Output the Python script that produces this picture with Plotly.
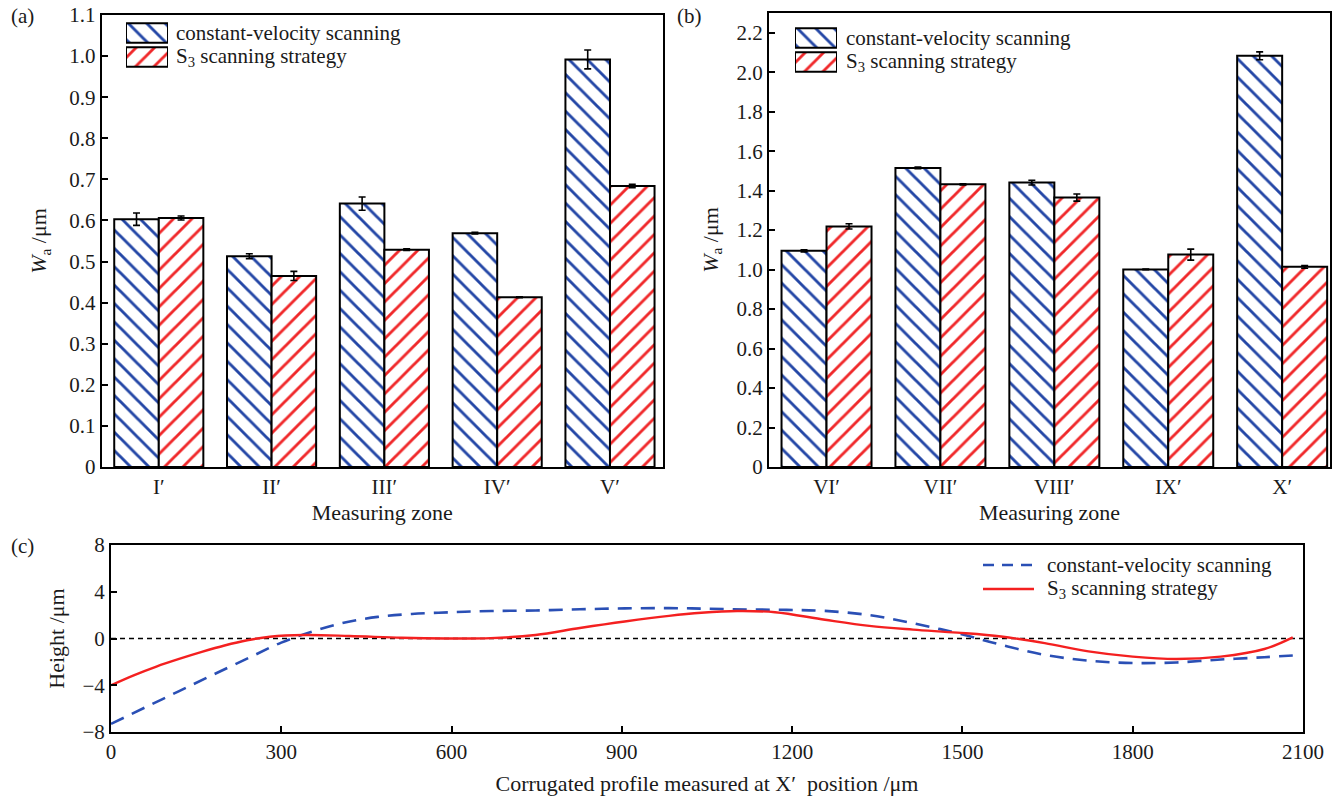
import plotly.graph_objects as go

# ---------------- data ----------------
zones_a = ["I′", "II′", "III′", "IV′", "V′"]
cv_a = [0.603, 0.513, 0.641, 0.569, 0.992]
cv_a_err = [0.015, 0.006, 0.016, 0.002, 0.023]
s3_a = [0.606, 0.465, 0.529, 0.413, 0.684]
s3_a_err = [0.005, 0.011, 0.002, 0.001, 0.004]

zones_b = ["VI′", "VII′", "VIII′", "IX′", "X′"]
cv_b = [1.095, 1.515, 1.441, 1.001, 2.083]
cv_b_err = [0.005, 0.004, 0.012, 0.002, 0.020]
s3_b = [1.219, 1.432, 1.365, 1.076, 1.014]
s3_b_err = [0.013, 0.003, 0.018, 0.028, 0.007]

pos_cv = [0, 60, 120, 180, 245, 300, 355, 410, 470, 530, 600, 670, 748, 826, 905, 983,
          1050, 1120, 1190, 1258, 1336, 1413, 1491, 1568, 1645, 1722, 1800, 1877, 1955, 2032, 2082]
height_cv = [-7.3, -5.9, -4.5, -3.1, -1.6, -0.35, 0.6, 1.35, 1.85, 2.1, 2.25, 2.35, 2.4, 2.5, 2.58, 2.6,
             2.55, 2.48, 2.45, 2.36, 2.0, 1.3, 0.46, -0.54, -1.4, -1.9, -2.1, -2.05, -1.8, -1.6, -1.45]
pos_s3 = [0, 40, 80, 120, 160, 200, 240, 280, 340, 420, 512, 590, 669, 748, 826, 905, 983,
          1040, 1103, 1170, 1258, 1336, 1413, 1491, 1568, 1645, 1722, 1800, 1877, 1955, 2032, 2082]
height_s3 = [-4.0, -3.15, -2.4, -1.75, -1.15, -0.6, -0.15, 0.15, 0.3, 0.22, 0.06, 0.0, 0.03, 0.3, 0.9, 1.46, 1.94,
             2.2, 2.35, 2.25, 1.6, 1.08, 0.76, 0.5, 0.17, -0.4, -1.1, -1.55, -1.75, -1.55, -0.9, 0.1]

yticks_a = [0, 0.1, 0.2, 0.3, 0.4, 0.5, 0.6, 0.7, 0.8, 0.9, 1.0, 1.1]
ytext_a = ["0", "0.1", "0.2", "0.3", "0.4", "0.5", "0.6", "0.7", "0.8", "0.9", "1.0", "1.1"]
yticks_b = [0, 0.2, 0.4, 0.6, 0.8, 1.0, 1.2, 1.4, 1.6, 1.8, 2.0, 2.2]
ytext_b = ["0", "0.2", "0.4", "0.6", "0.8", "1.0", "1.2", "1.4", "1.6", "1.8", "2.0", "2.2"]
xticks_c = [0, 300, 600, 900, 1200, 1500, 1800, 2100]
yticks_c = [-8, -4, 0, 4, 8]
ytext_c = ["−8", "−4", "0", "4", "8"]

series_names = ["constant-velocity scanning", "S<sub>3</sub> scanning strategy"]

# ---------------- style / geometry ----------------
FONT = "Liberation Serif, Times New Roman, serif"
TXT = "#1a1a1a"
BLUE = "#2346a6"
RED = "#f0282a"
BLUE_LINE = "#2a4fb5"
RED_LINE = "#f42020"
PAT = 13
SOL = 0.22
TICK_SIZE = 21
TITLE_SIZE = 22
LEG_SIZE = 21

W, H = 1337, 803


def fx(p):
    return p / W


def fy(p):
    return 1 - p / H


def dx(a, b):
    return [fx(a), fx(b)]


def dy(top, bottom):
    return [fy(bottom), fy(top)]


def pattern(shape, color):
    return dict(shape=shape, fgcolor=color, bgcolor="white", size=PAT, solidity=SOL, fillmode="replace")


fig = go.Figure()

for xs, ys, es, shape, col, xa, ya, nm in [
    (zones_a, cv_a, cv_a_err, "\\", BLUE, "x", "y", series_names[0]),
    (zones_a, s3_a, s3_a_err, "/", RED, "x", "y", series_names[1]),
    (zones_b, cv_b, cv_b_err, "\\", BLUE, "x2", "y2", series_names[0]),
    (zones_b, s3_b, s3_b_err, "/", RED, "x2", "y2", series_names[1]),
]:
    fig.add_trace(go.Bar(
        x=xs, y=ys, xaxis=xa, yaxis=ya, name=nm,
        marker=dict(color="white", pattern=pattern(shape, col),
                    line=dict(color="black", width=2)),
        error_y=dict(type="data", array=es, color="black", thickness=1.6, width=3.5),
    ))

# legend swatches for (a) and (b) drawn as bars on small hidden axes
for xa, ya in [("x4", "y4"), ("x5", "y5")]:
    fig.add_trace(go.Bar(
        x=[1, 1], y=[1, 0], orientation="h", width=0.82, xaxis=xa, yaxis=ya,
        cliponaxis=False, hoverinfo="skip",
        marker=dict(color="white",
                    pattern=dict(shape=["\\", "/"], fgcolor=[BLUE, RED], bgcolor="white",
                                 size=PAT, solidity=SOL, fillmode="replace"),
                    line=dict(color="black", width=2)),
    ))

# panel (c)
fig.add_trace(go.Scatter(
    x=pos_cv, y=height_cv, xaxis="x3", yaxis="y3", mode="lines", name=series_names[0],
    line=dict(color=BLUE_LINE, width=2.6, dash="14px,9px", shape="spline", smoothing=1.0),
))
fig.add_trace(go.Scatter(
    x=pos_s3, y=height_s3, xaxis="x3", yaxis="y3", mode="lines", name=series_names[1],
    line=dict(color=RED_LINE, width=2.4, shape="spline", smoothing=1.0),
))
# legend keys for (c) on a small hidden axis
fig.add_trace(go.Scatter(
    x=[0, 1], y=[1, 1], xaxis="x6", yaxis="y6", mode="lines", hoverinfo="skip", cliponaxis=False,
    line=dict(color=BLUE_LINE, width=2.6, dash="11px,8px"),
))
fig.add_trace(go.Scatter(
    x=[0, 1], y=[0, 0], xaxis="x6", yaxis="y6", mode="lines", hoverinfo="skip", cliponaxis=False,
    line=dict(color=RED_LINE, width=2.4),
))

axis_common = dict(showline=True, mirror=True, linecolor="black", linewidth=2, showgrid=False,
                   zeroline=False, automargin=False, ticklabeloverflow="allow",
                   tickfont=dict(family=FONT, size=TICK_SIZE, color=TXT),
                   title_font=dict(family=FONT, size=TITLE_SIZE, color=TXT))
hidden = dict(visible=False, fixedrange=True, automargin=False)
yticks_style = dict(ticks="inside", ticklen=6, tickwidth=2, tickcolor="black")

fig.update_layout(
    width=W, height=H,
    margin=dict(l=0, r=0, t=0, b=0, autoexpand=False),
    paper_bgcolor="white", plot_bgcolor="white",
    barmode="group", bargap=0.21, bargroupgap=0,
    font=dict(family=FONT, size=TICK_SIZE, color=TXT),
    showlegend=False,
    xaxis=dict(domain=dx(101.6, 663), anchor="y", range=[-0.507, 4.47], ticks="",
               title=dict(text="Measuring zone", standoff=6), **axis_common),
    yaxis=dict(domain=dy(15, 467), anchor="x", range=[0, 1.1], tickvals=yticks_a, ticktext=ytext_a,
               title=dict(text="<i>W</i><sub>a</sub> /μm", standoff=16), **yticks_style, **axis_common),
    xaxis2=dict(domain=dx(769, 1330), anchor="y2", range=[-0.505, 4.42], ticks="",
                title=dict(text="Measuring zone", standoff=6), **axis_common),
    yaxis2=dict(domain=dy(13, 467), anchor="x2", range=[0, 2.3], tickvals=yticks_b, ticktext=ytext_b,
                title=dict(text="<i>W</i><sub>a</sub> /μm", standoff=12), **yticks_style, **axis_common),
    xaxis3=dict(domain=dx(111, 1303), anchor="y3", range=[0, 2100], tickvals=xticks_c,
                title=dict(text="Corrugated profile measured at X′  position /μm", standoff=12),
                **yticks_style, **axis_common),
    yaxis3=dict(domain=dy(545, 732), anchor="x3", range=[-8, 8], tickvals=yticks_c, ticktext=ytext_c,
                title=dict(text="Height /μm", standoff=12), **yticks_style, **axis_common),
    xaxis4=dict(domain=dx(126, 168), anchor="y4", range=[0, 1], **hidden),
    yaxis4=dict(domain=dy(21, 69), anchor="x4", range=[-0.5, 1.5], **hidden),
    xaxis5=dict(domain=dx(795, 837), anchor="y5", range=[0, 1], **hidden),
    yaxis5=dict(domain=dy(26, 74), anchor="x5", range=[-0.5, 1.5], **hidden),
    xaxis6=dict(domain=dx(983, 1034), anchor="y6", range=[0, 1], **hidden),
    yaxis6=dict(domain=dy(553, 601), anchor="x6", range=[-0.5, 1.5], **hidden),
    shapes=[dict(type="line", xref="x3 domain", yref="y3", x0=0, x1=1, y0=0, y1=0,
                 line=dict(color="black", width=1.6, dash="5px,4px"), layer="below")],
)

anns = []
for text, px, py in [("(a)", 22, 16), ("(b)", 689, 16), ("(c)", 22, 546)]:
    anns.append(dict(text=text, x=fx(px), y=fy(py), xref="paper", yref="paper",
                     xanchor="center", yanchor="middle", showarrow=False,
                     font=dict(family=FONT, size=21, color=TXT)))
for x0, ys in [(174, (33, 57)), (844, (38, 62)), (1045, (565, 589))]:
    for name, yy in zip(series_names, ys):
        anns.append(dict(text=name, x=fx(x0), y=fy(yy), xref="paper", yref="paper",
                         xanchor="left", yanchor="middle", showarrow=False,
                         font=dict(family=FONT, size=LEG_SIZE, color=TXT)))
fig.update_layout(annotations=anns)

# remove the default page margin so the figure sits at the window's top-left corner
fig.write_html("out.html", config={"displayModeBar": False},
               post_script="document.body.style.margin='0px';")
